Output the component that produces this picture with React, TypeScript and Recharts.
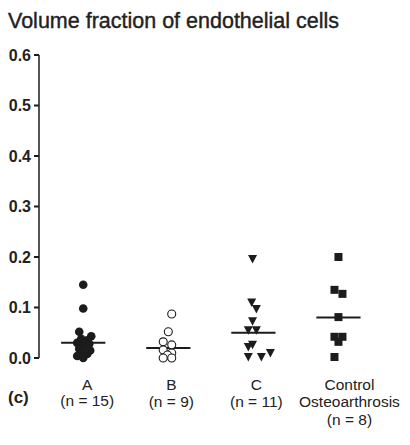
import React from "react"
import { ScatterChart, Scatter, XAxis, YAxis, ReferenceLine } from "recharts"

const yTicks = [0, 0.1, 0.2, 0.3, 0.4, 0.5, 0.6]
const groupTicks = [1, 2, 3, 4]
const groupLabels = [
  ["A", "(n = 15)"],
  ["B", "(n = 9)"],
  ["C", "(n = 11)"],
  ["Control", "Osteoarthrosis", "(n = 8)"],
]
const medians = [0.03, 0.02, 0.05, 0.08]

const groupA = [
  { x: 1.0, y: 0.145 },
  { x: 1.0, y: 0.098 },
  { x: 0.953, y: 0.052 },
  { x: 1.094, y: 0.043 },
  { x: 0.976, y: 0.038 },
  { x: 1.047, y: 0.035 },
  { x: 0.929, y: 0.03 },
  { x: 1.071, y: 0.028 },
  { x: 1.0, y: 0.022 },
  { x: 0.953, y: 0.018 },
  { x: 1.082, y: 0.015 },
  { x: 0.965, y: 0.01 },
  { x: 1.047, y: 0.008 },
  { x: 0.929, y: 0.004 },
  { x: 1.0, y: 0.0 },
]

const groupB = [
  { x: 2.04, y: 0.087 },
  { x: 2.0, y: 0.052 },
  { x: 1.94, y: 0.032 },
  { x: 2.04, y: 0.026 },
  { x: 1.94, y: 0.016 },
  { x: 2.04, y: 0.01 },
  { x: 1.99, y: 0.006 },
  { x: 1.94, y: 0.0 },
  { x: 2.04, y: 0.0 },
]

const groupC = [
  { x: 2.99, y: 0.196 },
  { x: 2.98, y: 0.11 },
  { x: 3.035, y: 0.097 },
  { x: 2.99, y: 0.073 },
  { x: 2.94, y: 0.055 },
  { x: 3.035, y: 0.055 },
  { x: 2.94, y: 0.022 },
  { x: 2.99, y: 0.026 },
  { x: 2.94, y: 0.002 },
  { x: 3.094, y: 0.002 },
  { x: 3.2, y: 0.01 },
]

const groupControl = [
  { x: 4.0, y: 0.2 },
  { x: 3.953, y: 0.135 },
  { x: 4.047, y: 0.127 },
  { x: 4.0, y: 0.081 },
  { x: 3.953, y: 0.042 },
  { x: 4.047, y: 0.042 },
  { x: 4.0, y: 0.032 },
  { x: 3.953, y: 0.002 },
]

const ink = "#1c1c1c"
const font = "'Liberation Sans', Arial, sans-serif"

const FilledDot = (p: any) => <circle cx={p.cx} cy={p.cy} r={4.3} fill={ink} />
const OpenDot = (p: any) => <circle cx={p.cx} cy={p.cy} r={4} fill="#fff" stroke={ink} strokeWidth={1.1} />
const Triangle = (p: any) => (
  <polygon
    points={`${p.cx - 4.5},${p.cy - 4} ${p.cx + 4.5},${p.cy - 4} ${p.cx},${p.cy + 4.5}`}
    fill={ink}
  />
)
const Square = (p: any) => <rect x={p.cx - 4} y={p.cy - 4} width={8} height={8} fill={ink} />

const labelShift = [4, 3, 3, 11]

const GroupTick = (props: any) => {
  const { x, y, index } = props
  const lines = groupLabels[index] || []
  return (
    <text x={x + labelShift[index]} y={y} textAnchor="middle" fill="#222" fontSize={15.5} fontFamily={font}>
      {lines.map((l, i) => (
        <tspan key={i} x={x + labelShift[index]} dy={i === 0 ? 31.5 : i === 1 && index === 0 ? 16 : 17.5}>
          {l}
        </tspan>
      ))}
    </text>
  )
}

export default function App() {
  return (
    <div style={{ position: "absolute", left: 0, top: 0, width: 410, height: 445, background: "#fff", fontFamily: font }}>
      <div
        style={{
          position: "absolute",
          left: 8,
          top: 9,
          fontSize: 21.5,
          color: "#222",
          whiteSpace: "nowrap",
          WebkitTextStroke: "0.4px #222",
        }}
      >
        Volume fraction of endothelial cells
      </div>
      <div style={{ position: "absolute", left: 8, top: 388, fontSize: 17, fontWeight: "bold", color: "#222" }}>(c)</div>
      <ScatterChart width={410} height={445} margin={{ top: 55, right: 29, bottom: 17, left: 0 }}>
        <XAxis
          type="number"
          dataKey="x"
          domain={[0.48, 4.5]}
          ticks={groupTicks}
          axisLine={false}
          tickLine={false}
          tickSize={0}
          tickMargin={0}
          height={70}
          tick={<GroupTick />}
          interval={0}
        />
        <YAxis
          type="number"
          dataKey="y"
          domain={[0, 0.6]}
          ticks={yTicks}
          width={39}
          tickSize={5}
          tickMargin={3}
          tickFormatter={(v: number) => v.toFixed(1)}
          axisLine={{ stroke: ink, strokeWidth: 1.5 }}
          tickLine={{ stroke: ink, strokeWidth: 2 }}
          tick={{ fill: "#222", fontSize: 16, fontWeight: "bold", fontFamily: font }}
        />
        {medians.map((m, i) => (
          <ReferenceLine
            key={i}
            segment={[
              { x: groupTicks[i] - 0.26, y: m },
              { x: groupTicks[i] + 0.26, y: m },
            ]}
            stroke={ink}
            strokeWidth={2}
            ifOverflow="visible"
          />
        ))}
        <Scatter data={groupA} shape={FilledDot} isAnimationActive={false} />
        <Scatter data={groupB} shape={OpenDot} isAnimationActive={false} />
        <Scatter data={groupC} shape={Triangle} isAnimationActive={false} />
        <Scatter data={groupControl} shape={Square} isAnimationActive={false} />
      </ScatterChart>
    </div>
  )
}
